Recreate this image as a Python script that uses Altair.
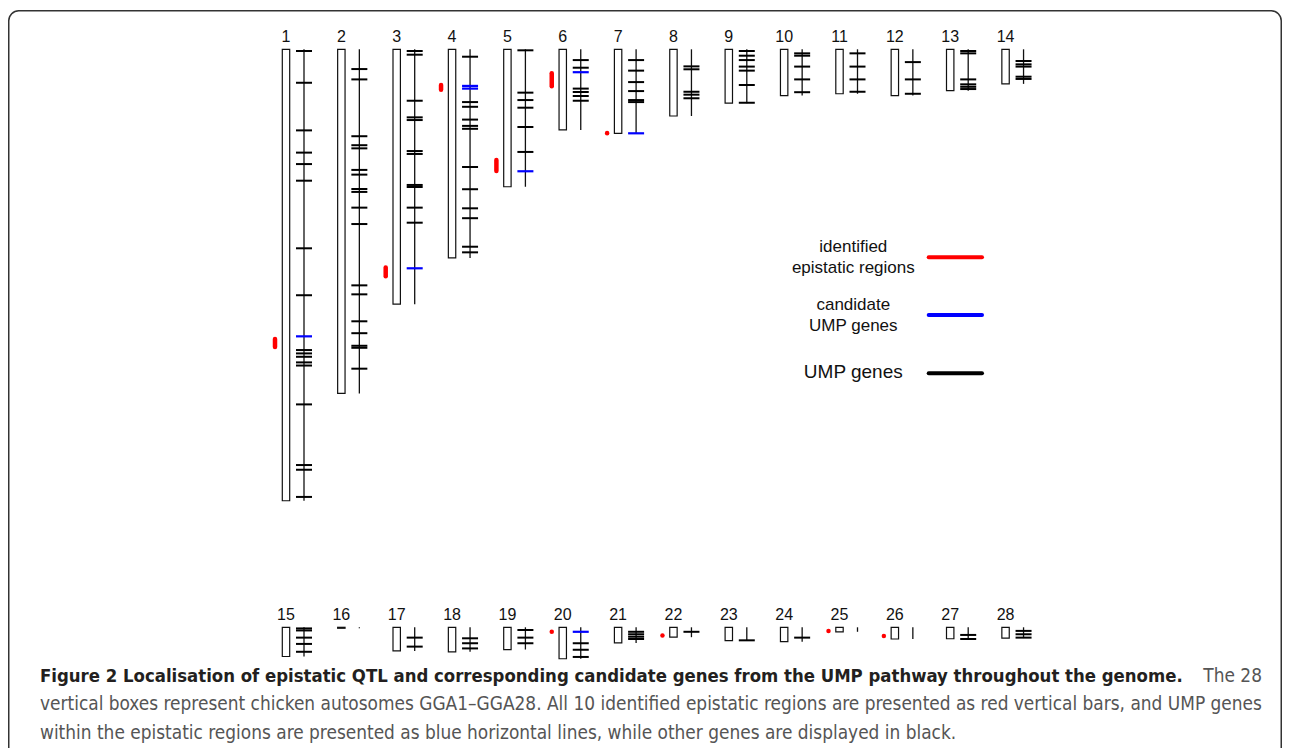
import altair as alt
import pandas as pd

# ---------------- data (positions in Mb) ----------------
chrom_ids = list(range(1, 29))
chrom_lengths = [201.0, 153.2, 113.5, 92.9, 61.2, 35.9, 37.4, 29.7, 24.0, 20.6,
                 19.8, 20.6, 18.4, 15.4, 13.0, 0.43, 10.5, 10.9, 9.9, 14.0,
                 6.96, 4.4, 5.9, 6.4, 2.0, 5.2, 5.1, 4.8]

ump_genes = {
    1: [0.76, 14.9, 36.1, 46.0, 51.1, 58.5, 88.6, 109.5, 133.9, 135.4, 136.9,
        139.4, 140.8, 158.1, 185.1, 187.2, 199.3],
    2: [8.8, 13.4, 38.7, 42.7, 44.1, 53.7, 55.8, 62.2, 63.5, 70.5, 77.8, 105.1,
        109.1, 121.1, 126.4, 132.0, 132.9, 142.2],
    3: [0.76, 2.4, 22.9, 30.3, 31.5, 45.3, 46.6, 60.4, 61.3, 70.5, 77.2],
    4: [3.3, 23.5, 25.6, 31.3, 34.1, 35.4, 52.4, 62.3, 70.8, 75.2, 87.9, 90.4],
    5: [0.45, 19.3, 22.6, 26.0, 34.6, 45.7],
    6: [4.8, 8.2, 17.5, 19.0, 20.8, 22.9],
    7: [4.8, 9.5, 14.6, 18.6, 22.6, 23.5],
    8: [7.6, 8.9, 18.9, 20.2, 21.8],
    9: [0.76, 2.85, 4.8, 7.7, 9.5, 15.9, 23.8],
    10: [1.8, 2.85, 7.7, 13.4, 19.1],
    11: [1.8, 7.7, 13.4, 18.9],
    12: [5.7, 13.4, 19.8],
    13: [0.76, 1.8, 13.4, 15.6, 16.7, 17.7],
    14: [5.2, 6.7, 7.7, 12.2, 13.2],
    15: [0.5, 1.4, 4.6, 7.4, 10.9],
    17: [4.6, 8.6],
    18: [4.9, 7.1, 9.4],
    19: [1.2, 4.6, 7.1],
    20: [7.1, 10.0, 13.2],
    21: [2.0, 3.1, 4.2, 5.2],
    22: [2.0],
    23: [5.8],
    24: [4.6],
    27: [3.4, 5.2],
    28: [1.6, 3.1, 4.6],
}
candidate_genes = {
    1: [127.8],
    3: [97.5],
    4: [16.3, 17.5],
    5: [54.3],
    6: [10.2],
    7: [37.4],
    20: [2.0],
}
qtl_chrom = [1, 3, 4, 5, 6, 7, 20, 22, 25, 26]
qtl_start = [129.0, 97.2, 15.9, 49.3, 10.7, 37.3, 2.0, 3.7, 1.6, 3.9]
qtl_end = [132.6, 101.0, 18.0, 54.2, 16.4, 37.4, 2.0, 3.7, 1.6, 3.9]

legend_labels = [["identified", "epistatic regions"], ["candidate", "UMP genes"], ["UMP genes"]]
legend_colors = ["#ff0000", "#0000ff", "#000000"]

caption_bold = ("Figure 2 Localisation of epistatic QTL and corresponding candidate genes "
                "from the UMP pathway throughout the genome.")
caption_lines = [
    "The 28",
    "vertical boxes represent chicken autosomes GGA1\u2013GGA28. All 10 identified epistatic "
    "regions are presented as red vertical bars, and UMP genes",
    "within the epistatic regions are presented as blue horizontal lines, while other genes "
    "are displayed in black.",
]

# ---------------- layout (pixels, chart coordinates = page - 8) ----------------
W, H = 1274, 740
PER_ROW = 14
SLOT_PX = 55.35
X0 = 278.0
Y0 = 41.3
PX_PER_MB = 2.246
ROW_OFF = 578.0 / PX_PER_MB
BOX_HALF = 3.7
LINE_DX = 18.0
TICK_HALF = 8.0
QTL_DX = -11.0

FONT = "Liberation Sans, Arial, Helvetica, sans-serif"
CAP_FONT = "Liberation Sans Narrow, DejaVu Sans Condensed, Arial Narrow, sans-serif"


def sx(px):
    return px / SLOT_PX


xs = alt.Scale(domain=[1 - X0 / SLOT_PX, 1 + (W - X0) / SLOT_PX], range=[0, W],
               nice=False, zero=False)
ys = alt.Scale(domain=[-Y0 / PX_PER_MB, (H - Y0) / PX_PER_MB], range=[0, H],
               nice=False, zero=False)

chrom_df = pd.DataFrame({"chrom": chrom_ids, "length": chrom_lengths})
chrom_df["slot"] = (chrom_df.chrom - 1) % PER_ROW + 1
chrom_df["row"] = (chrom_df.chrom - 1) // PER_ROW
chrom_df["top"] = chrom_df.row * ROW_OFF
chrom_df["bottom"] = chrom_df.top + chrom_df.length
chrom_df["box_l"] = chrom_df.slot - sx(BOX_HALF)
chrom_df["box_r"] = chrom_df.slot + sx(BOX_HALF)
chrom_df["line_x"] = chrom_df.slot + sx(LINE_DX)
chrom_df["label"] = chrom_df.chrom.astype(str)
info = chrom_df.set_index("chrom")


def gene_frame(genes):
    rows = []
    for c, poss in genes.items():
        for p in poss:
            s = info.loc[c, "slot"]
            rows.append({"chrom": c,
                         "y": info.loc[c, "top"] + p,
                         "x1": s + sx(LINE_DX - TICK_HALF),
                         "x2": s + sx(LINE_DX + TICK_HALF)})
    return pd.DataFrame(rows)


black_df = gene_frame(ump_genes)
blue_df = gene_frame(candidate_genes)

qtl_df = pd.DataFrame({"chrom": qtl_chrom, "start": qtl_start, "end": qtl_end})
qtl_df["x"] = [info.loc[c, "slot"] + sx(QTL_DX) for c in qtl_chrom]
qtl_df["y1"] = [info.loc[c, "top"] + s for c, s in zip(qtl_chrom, qtl_start)]
qtl_df["y2"] = [info.loc[c, "top"] + e for c, e in zip(qtl_chrom, qtl_end)]

X = lambda f: alt.X(f, type="quantitative", scale=xs, axis=None)
Y = lambda f: alt.Y(f, type="quantitative", scale=ys, axis=None)

boxes = alt.Chart(chrom_df).mark_rect(fill="white", stroke="#111111", strokeWidth=1.2).encode(
    x=X("box_l"), x2="box_r", y=Y("top"), y2="bottom")
labels = alt.Chart(chrom_df).mark_text(font=FONT, fontSize=16, dy=-7.5, baseline="alphabetic",
                                       align="center", color="#111111").encode(
    x=X("slot"), y=Y("top"), text="label:N")
glines = alt.Chart(chrom_df).mark_rule(color="#111111", strokeWidth=1.3).encode(
    x=X("line_x"), y=Y("top"), y2="bottom")
bticks = alt.Chart(black_df).mark_rule(color="#000000", strokeWidth=2).encode(
    x=X("x1"), x2="x2", y=Y("y"))
uticks = alt.Chart(blue_df).mark_rule(color="#0000ff", strokeWidth=2.2).encode(
    x=X("x1"), x2="x2", y=Y("y"))
qtls = alt.Chart(qtl_df).mark_rule(color="#ff0000", strokeWidth=4.5, strokeCap="round").encode(
    x=X("x"), y=Y("y1"), y2="y2")

layers = [boxes, glines, bticks, uticks, qtls, labels]

# legend (drawn by hand: text left of the line)
one = pd.DataFrame({"k": [0]})
leg_text_x = 845.3
leg_line = (920.7, 974.0)
leg_line_y = [249.3, 307.0, 365.3]
leg_base = [[244.3, 264.7], [302.0, 322.7], [369.7]]
leg_size = [17, 17, 19]
for lab, col, ly, bases, fs in zip(legend_labels, legend_colors, leg_line_y, leg_base, leg_size):
    for t, b in zip(lab, bases):
        layers.append(alt.Chart(one).mark_text(text=t, font=FONT, fontSize=fs, align="center",
                                               baseline="alphabetic", color="#111111").encode(
            x=alt.value(leg_text_x), y=alt.value(b)))
    layers.append(alt.Chart(one).mark_rule(color=col, strokeWidth=4, strokeCap="round").encode(
        x=alt.value(leg_line[0]), x2=alt.value(leg_line[1]), y=alt.value(ly)))

# caption
cap_x = 32
cap_base = [673.5, 702.0, 731.0]
layers.append(alt.Chart(one).mark_text(text=caption_bold, font=CAP_FONT, fontSize=18.4,
                                       fontWeight="bold", align="left", baseline="alphabetic",
                                       color="#231f20").encode(
    x=alt.value(cap_x), y=alt.value(cap_base[0])))
layers.append(alt.Chart(one).mark_text(text=caption_lines[0], font=CAP_FONT, fontSize=18.9,
                                       align="right", baseline="alphabetic",
                                       color="#555555").encode(
    x=alt.value(1254), y=alt.value(cap_base[0])))
for t, b in zip(caption_lines[1:], cap_base[1:]):
    layers.append(alt.Chart(one).mark_text(text=t, font=CAP_FONT, fontSize=18.9, align="left",
                                           baseline="alphabetic", color="#555555").encode(
        x=alt.value(cap_x), y=alt.value(b)))

# figure frame
layers.append(alt.Chart(one).mark_rect(fill="transparent", stroke="#333333", strokeWidth=1.5,
                                       cornerRadius=10).encode(
    x=alt.value(0.75), x2=alt.value(W - 0.75), y=alt.value(2.75), y2=alt.value(H + 30)))

chart = alt.layer(*layers).properties(
    width=W, height=H, padding=0, autosize=alt.AutoSizeParams(type="none")
).configure_view(strokeWidth=0)

chart.save("out.html", embed_options={"renderer": "svg", "actions": False})
